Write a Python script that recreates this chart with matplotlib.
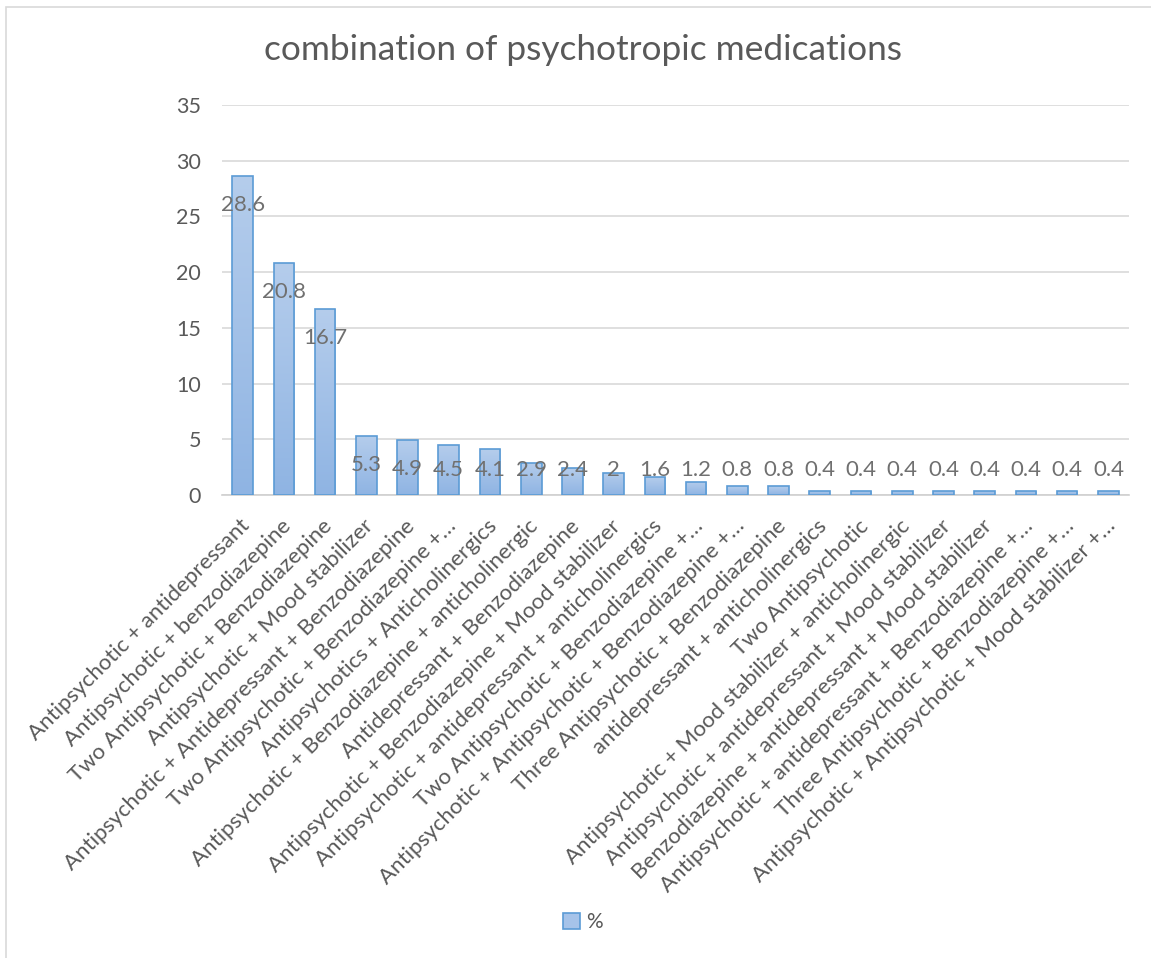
import matplotlib
matplotlib.use("Agg")
import matplotlib.pyplot as plt
import matplotlib.transforms as mtransforms
import numpy as np
from matplotlib.patches import Rectangle
from matplotlib.colors import LinearSegmentedColormap

plt.rcParams['font.family'] = ['Lato', 'DejaVu Sans']

categories = [
    "Antipsychotic + antidepressant",
    "Antipsychotic + benzodiazepine",
    "Two Antipsychotic + Benzodiazepine",
    "Antipsychotic + Mood stabilizer",
    "Antipsychotic + Antidepressant + Benzodiazepine",
    "Two Antipsychotic + Benzodiazepine +…",
    "Antipsychotics + Anticholinergics",
    "Antipsychotic + Benzodiazepine + anticholinergic",
    "Antidepressant + Benzodiazepine",
    "Antipsychotic + Benzodiazepine + Mood stabilizer",
    "Antipsychotic + antidepressant + anticholinergics",
    "Two Antipsychotic + Benzodiazepine +…",
    "Antipsychotic + Antipsychotic + Benzodiazepine +…",
    "Three Antipsychotic + Benzodiazepine",
    "antidepressant + anticholinergics",
    "Two Antipsychotic",
    "Antipsychotic + Mood stabilizer + anticholinergic",
    "Antipsychotic + antidepressant + Mood stabilizer",
    "Benzodiazepine + antidepressant + Mood stabilizer",
    "Antipsychotic + antidepressant + Benzodiazepine +…",
    "Three Antipsychotic + Benzodiazepine +…",
    "Antipsychotic + Antipsychotic + Mood stabilizer +…",
]
values = [28.6, 20.8, 16.7, 5.3, 4.9, 4.5, 4.1, 2.9, 2.4, 2, 1.6, 1.2,
          0.8, 0.8, 0.4, 0.4, 0.4, 0.4, 0.4, 0.4, 0.4, 0.4]
value_labels = ["28.6", "20.8", "16.7", "5.3", "4.9", "4.5", "4.1", "2.9",
                "2.4", "2", "1.6", "1.2", "0.8", "0.8", "0.4", "0.4", "0.4",
                "0.4", "0.4", "0.4", "0.4", "0.4"]
series_name = "%"
yticks = [0, 5, 10, 15, 20, 25, 30, 35]

W, H = 1151, 958
fig = plt.figure(figsize=(W / 100, H / 100), dpi=100)
TXT = "#595959"

# chart area border
fig.patches.append(Rectangle((6 / W, -0.01), 1.05, (H - 6.5) / H + 0.01,
                             transform=fig.transFigure, fill=False,
                             edgecolor="#d9d9d9", linewidth=1.2, zorder=0))

ax = fig.add_axes([222 / W, 1 - 495 / H, (1129 - 222) / W, (495 - 105) / H])
x = np.arange(len(values))
bars = ax.bar(x, values, width=0.5, color="#a6c3e9", edgecolor="#5b9bd5",
              linewidth=1.2, zorder=3)

# gradient fill inside bars
cmap = LinearSegmentedColormap.from_list("g", ["#8fb4e3", "#b5cdec"])
grad = np.linspace(0, 1, 256).reshape(-1, 1)
for b in bars:
    bx, by = b.get_x(), b.get_y()
    im = ax.imshow(grad, cmap=cmap, aspect="auto", origin="lower",
                   extent=[bx, bx + b.get_width(), by, by + b.get_height()],
                   zorder=2.9)
    im.set_clip_path(b)
    b.set_facecolor("none")

ax.set_xlim(-0.5, len(values) - 0.5)
ax.set_ylim(0, 35)
ax.set_yticks(yticks)
ax.set_yticklabels([str(t) for t in yticks])
ax.yaxis.grid(True, color="#d9d9d9", linewidth=1.2, zorder=0)
ax.set_axisbelow(True)
for s in ["top", "right", "left"]:
    ax.spines[s].set_visible(False)
ax.spines["bottom"].set_color("#d0d0d0")
ax.spines["bottom"].set_linewidth(1.2)
ax.tick_params(axis="both", length=0, colors=TXT)
ax.tick_params(axis="y", pad=15, labelsize=15.5)
ax.set_xticks(x)
ax.set_xticklabels(categories, rotation=45, ha="right",
                   rotation_mode="anchor", color=TXT, fontsize=16)
ax.tick_params(axis="x", pad=15)
shift = mtransforms.ScaledTranslation(-3 / 100, 0, fig.dpi_scale_trans)
for lbl in ax.get_xticklabels():
    lbl.set_transform(lbl.get_transform() + shift)

for xi, v, lab in zip(x, values, value_labels):
    ypos = max(v - 2.6, 2.25)
    ax.text(xi, ypos, lab, ha="center", va="center", fontsize=16,
            color="#707070", zorder=5)

fig.text(583 / W, 1 - 50 / H, "combination of psychotropic medications",
         ha="center", va="center", fontsize=25.4, color=TXT)

leg = ax.legend([Rectangle((0, 0), 1, 1, facecolor="#a6c3e9",
                           edgecolor="#5b9bd5", linewidth=1.2)],
                [series_name], loc="center",
                bbox_to_anchor=(583 / W, 1 - 922 / H),
                bbox_transform=fig.transFigure, frameon=False,
                fontsize=15, handlelength=0.8, handleheight=0.8,
                handletextpad=0.3, labelcolor=TXT)

fig.savefig("out.png", dpi=100, facecolor="white")
